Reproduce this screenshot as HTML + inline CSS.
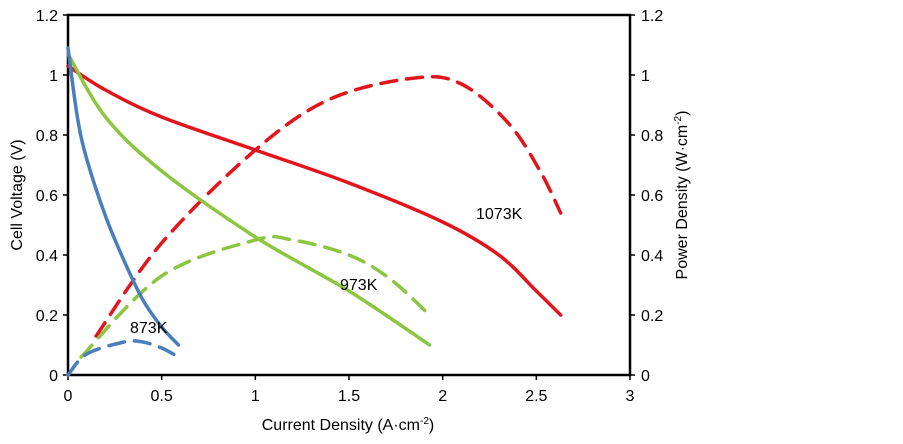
<!DOCTYPE html>
<html><head><meta charset="utf-8"><style>
body{margin:0;background:#fff;}
svg text{font-family:"Liberation Sans",Arial,sans-serif;font-size:16px;fill:#000;}
</style></head><body>
<svg id="s" width="903" height="439" viewBox="0 0 903 439" xmlns="http://www.w3.org/2000/svg">
<rect x="68" y="15" width="562" height="360" fill="none" stroke="#000" stroke-width="2.5"/>
<g id="ticks" stroke="#000" stroke-width="1.5"></g>
<g id="lbl"></g>
<g id="curves" fill="none" stroke-width="3.5" stroke-linecap="round" stroke-linejoin="round"></g>
<text x="130" y="333">873K</text>
<text x="340" y="290">973K</text>
<text x="476" y="219">1073K</text>
<text x="348" y="430" text-anchor="middle">Current Density (A·cm<tspan font-size="10" dy="-6">-2</tspan><tspan dy="6">)</tspan></text>
<text transform="translate(22,195) rotate(-90)" text-anchor="middle">Cell Voltage (V)</text>
<text transform="translate(687,195) rotate(-90)" text-anchor="middle">Power Density (W·cm<tspan font-size="10" dy="-6">-2</tspan><tspan dy="6">)</tspan></text>
</svg>
<script>
const X=x=>68+187.33*x, Y=v=>375-300*v;
const ns="http://www.w3.org/2000/svg";
function el(p,t,a,txt){const e=document.createElementNS(ns,t);for(const k in a)e.setAttribute(k,a[k]);if(txt!==undefined)e.textContent=txt;document.getElementById(p).appendChild(e);}
for(let i=0;i<=6;i++){const v=i*0.2,y=Y(v),l=(i==0?"0":i==5?"1":v.toFixed(1));
el("ticks","line",{x1:63,x2:68,y1:y,y2:y});el("ticks","line",{x1:630,x2:635,y1:y,y2:y});
el("lbl","text",{x:58,y:y+6,"text-anchor":"end"},l);el("lbl","text",{x:641,y:y+6},l);}
for(let i=0;i<=6;i++){const x=X(i*0.5);el("ticks","line",{x1:x,x2:x,y1:375,y2:380});
el("lbl","text",{x:x,y:401,"text-anchor":"middle"},(i%2==0)?String(i/2):String(i*0.5));}
function path(pts){let d="M"+X(pts[0][0])+","+Y(pts[0][1]);
const P=pts.map(p=>[X(p[0]),Y(p[1])]);
for(let i=0;i<P.length-1;i++){const p0=P[Math.max(0,i-1)],p1=P[i],p2=P[i+1],p3=P[Math.min(P.length-1,i+2)];
const c1=[p1[0]+(p2[0]-p0[0])/6,p1[1]+(p2[1]-p0[1])/6],c2=[p2[0]-(p3[0]-p1[0])/6,p2[1]-(p3[1]-p1[1])/6];
d+=` C${c1[0]},${c1[1]} ${c2[0]},${c2[1]} ${p2[0]},${p2[1]}`;}return d;}
const R="#e3151c",G="#8cc63f",B="#4a7ebb";
const curves=[
[R,0,[[0,1.03],[0.2,0.95],[0.5,0.86],[1,0.75],[1.5,0.64],[2,0.51],[2.3,0.40],[2.5,0.28],[2.63,0.20]]],
[R,1,[[0.15,0.13],[0.5,0.44],[1,0.75],[1.4,0.92],[1.85,0.99],[2.1,0.97],[2.35,0.84],[2.52,0.68],[2.63,0.54]]],
[G,0,[[0,1.07],[0.2,0.86],[0.5,0.68],[1,0.46],[1.5,0.28],[1.93,0.10]]],
[G,1,[[0.07,0.06],[0.5,0.33],[1,0.45],[1.2,0.45],[1.5,0.40],[1.72,0.32],[1.93,0.20]]],
[B,0,[[0,1.09],[0.05,0.86],[0.1,0.72],[0.2,0.53],[0.3,0.38],[0.4,0.25],[0.5,0.16],[0.59,0.10]]],
[B,1,[[0,0],[0.1,0.07],[0.3,0.11],[0.4,0.11],[0.5,0.09],[0.59,0.06]]]];
for(const [c,d,p] of curves){const a={d:path(p),stroke:c};if(d)a["stroke-dasharray"]="16,10";el("curves","path",a);}
</script>
</body></html>
